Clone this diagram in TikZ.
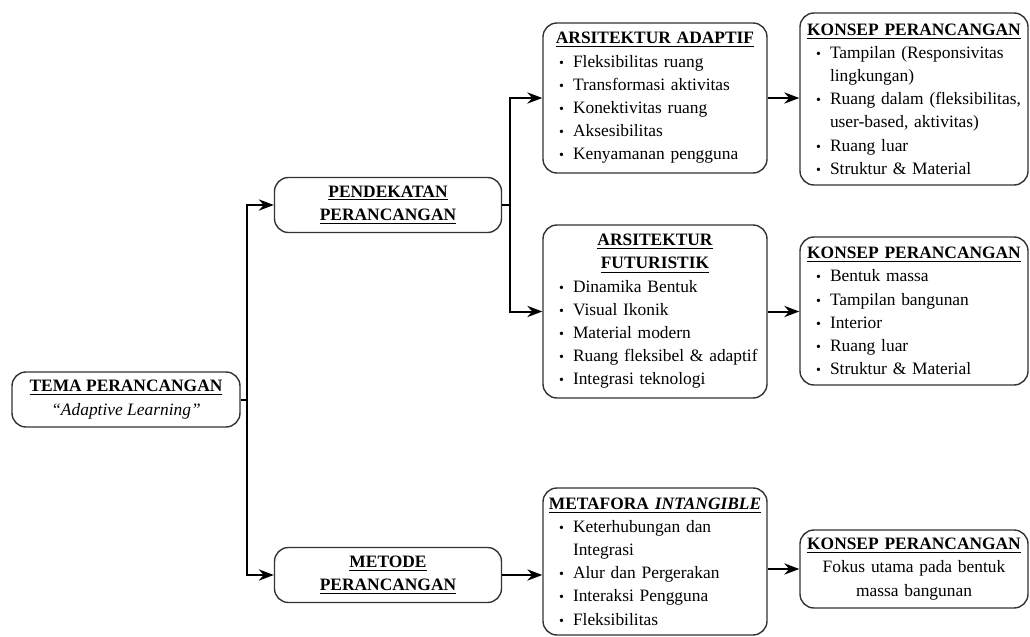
\documentclass[tikz,border=0pt]{standalone}
\usepackage{fontspec}
\setmainfont{Liberation Serif}
\usetikzlibrary{arrows.meta}
\newcommand\hd[1]{\textbf{\underline{#1}}}
\newcommand\ttl[1]{\makebox[\linewidth]{\hd{#1}}}
\newcommand\itm[1]{\par\hspace*{6pt}\makebox[7pt][l]{\fontsize{7}{7}\selectfont\textbullet}\mbox{#1}}
\newcommand\cnt[1]{\par\hspace*{13pt}\mbox{#1}}
\tikzset{>=Stealth,every node/.style={font=\fontsize{8.7}{11.6}\selectfont},
 box/.style={draw=black!80,line width=.7pt,rounded corners=7pt,inner sep=2pt,align=center},
 list/.style={box,align=left},
 flow/.style={line width=1pt,->},edge/.style={line width=1pt}}

\begin{document}
\begin{tikzpicture}[x=.5pt,y=-.5pt]
\useasboundingbox (0,0) rectangle (1030,637);
\node[box,minimum width=114pt,minimum height=27.5pt] (tema) at (126,399.5) {\hd{TEMA PERANCANGAN}\\\textit{``Adaptive Learning''}};
\node[box,minimum width=113.5pt,minimum height=27.5pt] (pend) at (388,205) {\hd{PENDEKATAN}\\\hd{PERANCANGAN}};
\node[box,minimum width=113.5pt,minimum height=27.5pt] (metode) at (388,575) {\hd{METODE}\\\hd{PERANCANGAN}};
% konsep arsitektur
\node[list,text width=108pt,minimum height=75pt] (adapt) at (655,98) {\ttl{ARSITEKTUR ADAPTIF}\itm{Fleksibilitas ruang}\itm{Transformasi aktivitas}\itm{Konektivitas ruang}\itm{Aksesibilitas}\itm{Kenyamanan pengguna}};
\node[list,text width=108pt,minimum height=86.5pt] (futur) at (655,311.5) {\ttl{ARSITEKTUR}\par\ttl{FUTURISTIK}\itm{Dinamika Bentuk}\itm{Visual Ikonik}\itm{Material modern}\itm{Ruang fleksibel \& adaptif}\itm{Integrasi teknologi}};
\node[list,text width=108pt,minimum height=73.5pt] (meta) at (655,561.5) {\ttl{METAFORA \textit{INTANGIBLE}}\itm{Keterhubungan dan}\cnt{Integrasi}\itm{Alur dan Pergerakan}\itm{Interaksi Pengguna}\itm{Fleksibilitas}};
% konsep perancangan
\node[list,text width=110pt,minimum height=86pt] (kon1) at (914,99) {\ttl{KONSEP PERANCANGAN}\itm{Tampilan (Responsivitas}\cnt{lingkungan)}\itm{Ruang dalam (fleksibilitas,}\cnt{user-based, aktivitas)}\itm{Ruang luar}\itm{Struktur \& Material}};
\node[list,text width=110pt,minimum height=74pt] (kon2) at (914,311) {\ttl{KONSEP PERANCANGAN}\itm{Bentuk massa}\itm{Tampilan bangunan}\itm{Interior}\itm{Ruang luar}\itm{Struktur \& Material}};
\node[box,text width=110pt,minimum height=39pt] (kon3) at (914,569) {\hd{KONSEP PERANCANGAN}\\Fokus utama pada bentuk\\massa bangunan};
% panah
\coordinate (j1) at (247,399.5);\coordinate (j2) at (510,205);
\draw[edge] (tema.east)--(j1);\draw[flow] (j1) |- (pend.west);\draw[flow] (j1) |- (metode.west);
\draw[edge] (pend.east)--(j2);\draw[flow] (j2) |- (adapt.west);\draw[flow] (j2) |- (futur.west);
\draw[flow] (adapt.east)--(adapt.east -| kon1.west);\draw[flow] (futur.east)--(futur.east -| kon2.west);
\draw[flow] (metode.east)--(metode.east -| meta.west);\draw[flow] (meta.east |- kon3.west)--(kon3.west);
\end{tikzpicture}
\end{document}
